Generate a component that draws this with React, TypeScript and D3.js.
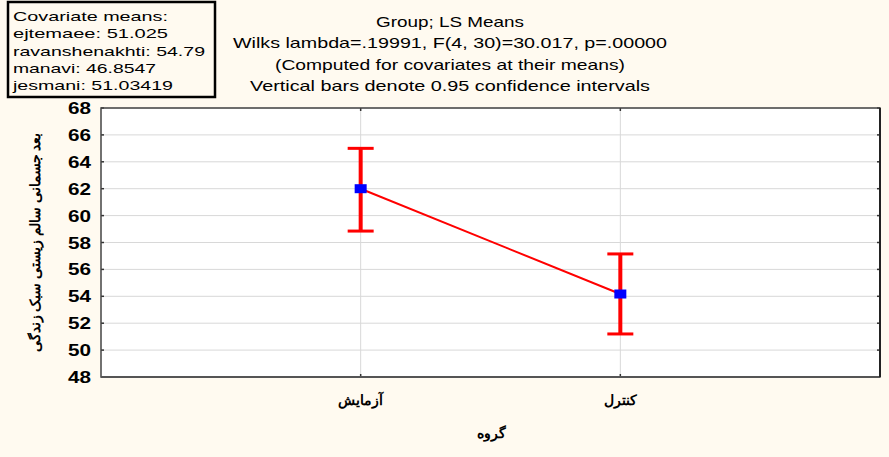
import React from "react";
import * as d3 from "d3";

const categories = ["آزمایش", "کنترل"];
const means = [62.0, 54.17];
const lower = [58.85, 51.2];
const upper = [65.0, 57.15];
const yTicks = [48, 50, 52, 54, 56, 58, 60, 62, 64, 66, 68];
const titleLines = [
  "Group; LS Means",
  "Wilks lambda=.19991, F(4, 30)=30.017, p=.00000",
  "(Computed for covariates at their means)",
  "Vertical bars denote 0.95 confidence intervals",
];
const titleWidths = [148, 434, 350, 400];
const covLines = [
  "Covariate means:",
  "ejtemaee: 51.025",
  "ravanshenakhti: 54.79",
  "manavi: 46.8547",
  "jesmani: 51.03419",
];
const covWidths = [155, 155, 192, 143, 160];
const yTitle = "بعد جسمانی سالم زیستی سبک زندگی";
const xTitle = "گروه";

const W = 889;
const H = 457;
const M = { left: 101, right: 880, top: 108, bottom: 377 };

export default function App() {
  const x = d3.scalePoint<string>().domain(categories).range([M.left, M.right]).padding(1);
  const y = d3.scaleLinear().domain([48, 68]).range([M.bottom, M.top]);
  const line = d3
    .line<number>()
    .x((_, i) => x(categories[i]) as number)
    .y((d) => y(d));
  const font = "Arial, 'Liberation Sans', sans-serif";
  return (
    <svg width={W} height={H} style={{ position: "absolute", left: 0, top: 0 }}>
      <rect x={0} y={0} width={W} height={H} fill="#fffaf0" />
      <rect x={M.left} y={M.top} width={M.right - M.left} height={M.bottom - M.top} fill="#ffffff" />
      {yTicks.map((t) => (
        <line key={t} x1={M.left} x2={M.right} y1={y(t)} y2={y(t)} stroke="#d8d8d8" strokeWidth={1} />
      ))}
      {categories.map((c) => (
        <line key={c} x1={x(c)} x2={x(c)} y1={M.top} y2={M.bottom} stroke="#d8d8d8" strokeWidth={1} />
      ))}
      {yTicks.map((t) => (
        <g key={"tk" + t}>
          <line x1={M.left} x2={M.left + 3} y1={y(t)} y2={y(t)} stroke="#333" strokeWidth={1.5} />
          <line x1={M.right - 3} x2={M.right} y1={y(t)} y2={y(t)} stroke="#333" strokeWidth={1.5} />
        </g>
      ))}
      {categories.map((c) => (
        <g key={"xt" + c}>
          <line x1={x(c)} x2={x(c)} y1={M.bottom - 3} y2={M.bottom} stroke="#333" strokeWidth={1.5} />
          <line x1={x(c)} x2={x(c)} y1={M.top} y2={M.top + 3} stroke="#333" strokeWidth={1.5} />
        </g>
      ))}
      <rect x={M.left} y={M.top} width={M.right - M.left} height={M.bottom - M.top} fill="none" stroke="#444" strokeWidth={1.5} />
      <line x1={M.left} x2={M.right} y1={M.bottom} y2={M.bottom} stroke="#555" strokeWidth={2} />
      <line x1={M.right} x2={M.right} y1={M.top} y2={M.bottom} stroke="#222" strokeWidth={2} />
      <path d={line(means) || ""} fill="none" stroke="#ff0000" strokeWidth={2} />
      {categories.map((c, i) => {
        const cx = x(c) as number;
        return (
          <g key={"eb" + c}>
            <line x1={cx} x2={cx} y1={y(lower[i])} y2={y(upper[i])} stroke="#ff0000" strokeWidth={4} />
            <line x1={cx - 13} x2={cx + 13} y1={y(lower[i])} y2={y(lower[i])} stroke="#ff0000" strokeWidth={3} />
            <line x1={cx - 13} x2={cx + 13} y1={y(upper[i])} y2={y(upper[i])} stroke="#ff0000" strokeWidth={3} />
            <rect x={cx - 6} y={y(means[i]) - 4.5} width={12} height={9} fill="#0000ff" />
          </g>
        );
      })}
      {yTicks.map((t) => (
        <text
          key={"yl" + t}
          x={91}
          y={y(t) + 6}
          textAnchor="end"
          fontFamily={font}
          fontWeight="bold"
          fontSize={16}
          fill="#000"
          textLength={23}
          lengthAdjust="spacingAndGlyphs"
        >
          {t}
        </text>
      ))}
      {categories.map((c) => (
        <text key={"xl" + c} x={x(c)} y={405} textAnchor="middle" fontFamily={font} fontWeight="bold" fontSize={14} fill="#000" direction="rtl">
          {c}
        </text>
      ))}
      <text x={491} y={438} textAnchor="middle" fontFamily={font} fontWeight="bold" fontSize={14} fill="#000" direction="rtl">
        {xTitle}
      </text>
      <text
        transform={`translate(40, ${(M.top + M.bottom) / 2}) rotate(-90)`}
        textAnchor="middle"
        fontFamily={font}
        fontWeight="bold"
        fontSize={13.5}
        fill="#000"
        direction="rtl"
      >
        {yTitle}
      </text>
      {titleLines.map((l, i) => (
        <text
          key={"t" + i}
          x={450}
          y={27 + i * 21.3}
          textAnchor="middle"
          fontFamily={font}
          fontSize={14.5}
          fill="#000"
          textLength={titleWidths[i]}
          lengthAdjust="spacingAndGlyphs"
        >
          {l}
        </text>
      ))}
      <rect x={8} y={2} width={207} height={95} fill="#fffaf0" stroke="#000" strokeWidth={2.5} />
      {covLines.map((l, i) => (
        <text
          key={"c" + i}
          x={13}
          y={21 + i * 17.3}
          fontFamily={font}
          fontSize={13.5}
          fill="#000"
          textLength={covWidths[i]}
          lengthAdjust="spacingAndGlyphs"
        >
          {l}
        </text>
      ))}
    </svg>
  );
}
